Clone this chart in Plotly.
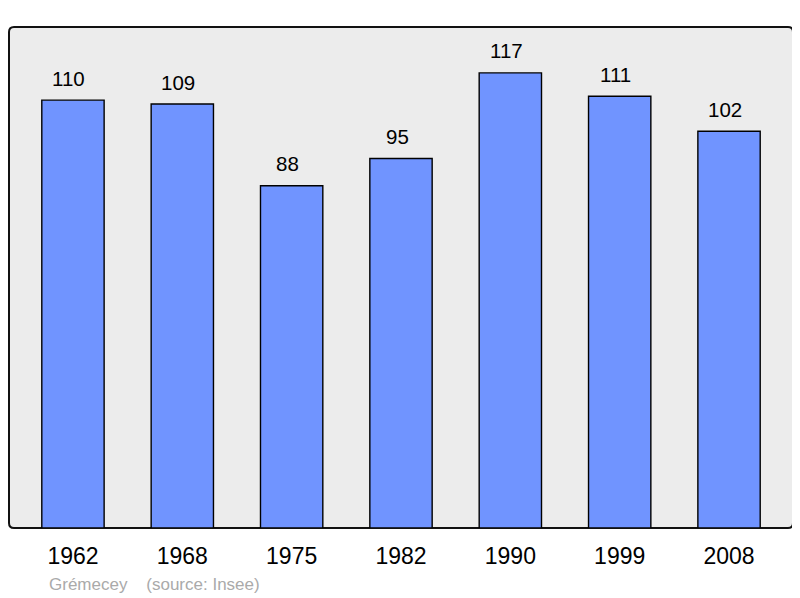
import plotly.graph_objects as go

# Population data
years = ['1962', '1968', '1975', '1982', '1990', '1999', '2008']
population = [110, 109, 88, 95, 117, 111, 102]
commune = 'Grémecey'
source = '(source: Insee)'

FONT = 'Liberation Sans, Arial, sans-serif'

fig = go.Figure()

fig.add_trace(go.Bar(
    x=years,
    y=population,
    width=0.57,
    marker=dict(color='#7094ff', line=dict(color='black', width=1.4)),
    hoverinfo='x+y',
))

# value labels above each bar (x given as category index)
for i, val in enumerate(population):
    fig.add_annotation(x=i, y=val, text=str(val), showarrow=False,
                       yanchor='middle', yshift=22, xshift=-4,
                       font=dict(family=FONT, size=20.5, color='black'))

# footer text
fig.add_annotation(x=0.049, y=-0.112, xref='paper', yref='paper', xanchor='left', yanchor='middle',
                   text=commune + '&nbsp;&nbsp;&nbsp;&nbsp;' + source, showarrow=False,
                   font=dict(family=FONT, size=17, color='#aaaaaa'))

# frame with slightly rounded corners, in paper units
pw, ph, r = 784.0, 501.0, 5.0
rx, ry = r / pw, r / ph
frame = (f"M {rx},0 L {1 - rx},0 Q 1,0 1,{ry} L 1,{1 - ry} Q 1,1 {1 - rx},1 "
         f"L {rx},1 Q 0,1 0,{1 - ry} L 0,{ry} Q 0,0 {rx},0 Z")

# the page body has an 8px margin, so the figure is 8px smaller
fig.update_layout(
    width=792, height=590,
    margin=dict(l=1, r=7, t=19, b=70),
    plot_bgcolor='rgba(0,0,0,0)',
    paper_bgcolor='white',
    showlegend=False,
    font=dict(family=FONT, color='black'),
    shapes=[dict(type='path', path=frame, xref='paper', yref='paper',
                 fillcolor='#ececec', layer='below',
                 line=dict(color='#111111', width=2))],
)

fig.update_xaxes(range=[-0.585, 6.585], showgrid=False, ticks='', showline=False,
                 tickfont=dict(size=23), ticklabelstandoff=12)
fig.update_yaxes(range=[0, 128.8], showgrid=False, zeroline=False, showticklabels=False)

fig.write_html('out.html')
